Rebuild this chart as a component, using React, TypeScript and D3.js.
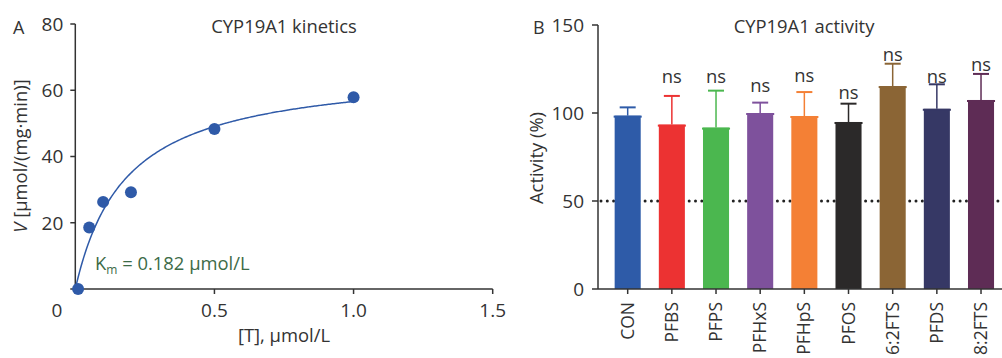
import { type FC } from "react";
import * as d3 from "d3";

// kinetics panel (A)
const concentrations = [0.01, 0.05, 0.1, 0.2, 0.5, 1.0];
const velocities = [0, 18.6, 26.3, 29.2, 48.3, 57.9];
const kmValue = 0.182;
const vmaxValue = 66.9;
const kinXTicks = [0.5, 1.0, 1.5];
const kinYTicks = [20, 40, 60, 80];

// activity panel (B)
const compounds = ["CON", "PFBS", "PFPS", "PFHxS", "PFHpS", "PFOS", "6:2FTS", "PFDS", "8:2FTS"];
const activity = [98.5, 93.4, 91.7, 100, 98.3, 94.9, 115.3, 102.4, 107.4];
const activityErr = [4.7, 16.3, 21.0, 5.9, 13.6, 10.4, 12.7, 13.9, 14.8];
const nsLabelAt = [null, 116.9, 116.9, 111.8, 117.8, 107.8, 129.5, 117.2, 124];
const barColors = ["#2e5ba8", "#ec3232", "#4bb74f", "#7e519c", "#f48035", "#2b2929", "#8b6535", "#363865", "#5e2c55"];
const actYTicks = [0, 50, 100, 150];

const FONT = "'Open Sans', sans-serif";
const INK = "#333";

const App: FC = () => {
  const xK = d3.scaleLinear().domain([0, 1.5]).range([75.3, 492.7]);
  const yK = d3.scaleLinear().domain([0, 80]).range([289, 24]);

  const fit = d3.range(0, 1.0001, 0.005).map((c) => [c, (vmaxValue * c) / (kmValue + c)] as [number, number]);
  const fitPath = d3
    .line<[number, number]>()
    .x((d) => xK(d[0]))
    .y((d) => yK(d[1]))
    .curve(d3.curveMonotoneX)(fit) || "";

  const xB = d3.scaleBand().domain(compounds).range([605.6, 1003.1]).paddingInner(0.41).paddingOuter(0.205);
  const yB = d3.scaleLinear().domain([0, 150]).range([289, 25]);
  const bw = xB.bandwidth();

  return (
    <svg width={1002} height={358} style={{ position: "absolute", left: 0, top: 0, background: "#fff" }} fontFamily={FONT}>
      {/* ---------- Panel A ---------- */}
      <text x={13} y={34} fontSize={18} fill={INK}>A</text>
      <text x={284} y={33} fontSize={18.4} fill={INK} textAnchor="middle">CYP19A1 kinetics</text>

      <line x1={xK(0)} x2={xK(0)} y1={yK(80)} y2={yK(0)} stroke={INK} strokeWidth={1.5} />
      <line x1={xK(0) - 5} x2={xK(1.5)} y1={yK(0)} y2={yK(0)} stroke={INK} strokeWidth={1.5} />
      {kinYTicks.map((t) => (
        <g key={t}>
          <line x1={xK(0) - 5} x2={xK(0)} y1={yK(t)} y2={yK(t)} stroke={INK} strokeWidth={1.5} />
          <text x={xK(0) - 12} y={yK(t)} dy="0.36em" fontSize={19} fill={INK} textAnchor="end">{t}</text>
        </g>
      ))}
      {kinXTicks.map((t) => (
        <g key={t}>
          <line x1={xK(t)} x2={xK(t)} y1={yK(0)} y2={yK(0) + 5} stroke={INK} strokeWidth={1.5} />
          <text x={xK(t)} y={317} fontSize={19} fill={INK} textAnchor="middle">{t.toFixed(1)}</text>
        </g>
      ))}
      <text x={57} y={317} fontSize={19} fill={INK} textAnchor="middle">0</text>
      <text x={284} y={342} fontSize={18.4} fill={INK} textAnchor="middle">[T], µmol/L</text>
      <text transform="translate(27,156) rotate(-90)" fontSize={18.4} fill={INK} textAnchor="middle">
        <tspan fontStyle="italic">V</tspan> [µmol/(mg·min)]
      </text>

      <path d={fitPath} fill="none" stroke="#2f5aa8" strokeWidth={1.5} />
      {concentrations.map((c, i) => (
        <circle key={i} cx={xK(c)} cy={yK(velocities[i])} r={6} fill="#2f5aa8" />
      ))}
      <text x={95} y={270} fontSize={18.4} fill="#3d6b47">
        K<tspan fontSize={12} dy={4}>m</tspan>
        <tspan dy={-4}> = {kmValue} µmol/L</tspan>
      </text>

      {/* ---------- Panel B ---------- */}
      <text x={533} y={34} fontSize={18} fill={INK}>B</text>
      <text x={804} y={33} fontSize={18.4} fill={INK} textAnchor="middle">CYP19A1 activity</text>
      <text transform="translate(543,158) rotate(-90)" fontSize={18.4} fill={INK} textAnchor="middle">Activity (%)</text>

      <line x1={601} x2={1002} y1={yB(50)} y2={yB(50)} stroke="#222" strokeWidth={3} strokeDasharray="0,6.3" strokeLinecap="round" />

      {compounds.map((c, i) => {
        const x0 = xB(c) ?? 0;
        const cx = x0 + bw / 2;
        const top = yB(activity[i]);
        const errTop = yB(activity[i] + activityErr[i]);
        const col = barColors[i];
        return (
          <g key={c}>
            <line x1={cx} x2={cx} y1={top} y2={errTop} stroke={col} strokeWidth={1.5} />
            <line x1={cx - 8} x2={cx + 8} y1={errTop} y2={errTop} stroke={col} strokeWidth={2} />
            <rect x={x0} y={top} width={bw} height={yB(0) - top} fill={col} />
            <line x1={x0 - 1} x2={x0 + bw + 1} y1={top + 1} y2={top + 1} stroke={col} strokeWidth={2} />
            {nsLabelAt[i] !== null && (
              <text x={cx} y={yB(nsLabelAt[i] as number)} fontSize={18.4} fill={INK} textAnchor="middle">ns</text>
            )}
            <line x1={cx} x2={cx} y1={yB(0)} y2={yB(0) + 5} stroke={INK} strokeWidth={1.5} />
            <text transform={`translate(${cx},302) rotate(-90)`} dy="0.35em" fontSize={17.5} fill={INK} textAnchor="end">{c}</text>
          </g>
        );
      })}

      <line x1={598} x2={598} y1={yB(150)} y2={yB(0)} stroke={INK} strokeWidth={1.5} />
      <line x1={598} x2={1002} y1={yB(0)} y2={yB(0)} stroke={INK} strokeWidth={1.5} />
      {actYTicks.map((t) => (
        <g key={t}>
          <line x1={592} x2={598} y1={yB(t)} y2={yB(t)} stroke={INK} strokeWidth={1.5} />
          <text x={584} y={yB(t)} dy="0.36em" fontSize={19} fill={INK} textAnchor="end">{t}</text>
        </g>
      ))}
    </svg>
  );
};

export default App;
